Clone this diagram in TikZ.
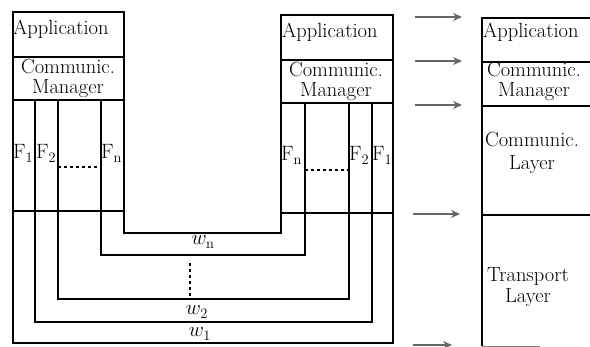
\documentclass[tikz,border=0pt]{standalone}
\usetikzlibrary{arrows.meta}
\begin{document}
\begin{tikzpicture}[x=1pt,y=-1pt,
  thickline/.style={line width=1.8pt},
  thinline/.style={line width=1.1pt},
  lbl/.style={font=\fontsize{20.5}{20}\selectfont, inner sep=0pt, align=center},
  flow/.style={line width=1.3pt, black!60, -{Stealth[length=9pt,width=8pt]}},
]
\useasboundingbox (0,0) rectangle (590,347);

% outer outline of both stacks and the channel
\draw[thickline] (124,12) -- (13,12) -- (13,343) -- (393,343) -- (393,15)
  -- (281,15) -- (281,233) -- (124,233) -- cycle;

% layer separators
\draw[thickline] (13,57) -- (124,57) (13,100) -- (124,100);
\draw[thickline] (281,60) -- (393,60) (281,103) -- (393,103);
\draw[thinline] (13,211) -- (124,211) (281,213) -- (393,213);

% channel U-lines
\draw[thinline] (101,100) -- (101,255) -- (305,255) -- (305,103);
\draw[thinline] (58,100) -- (58,299) -- (349,299) -- (349,103);
\draw[thinline] (35,100) -- (35,322) -- (372,322) -- (372,103);

% dashed
\draw[thinline, dashed] (58,167) -- (101,167);
\draw[thinline, dashed] (305,170) -- (349,170);
\draw[thinline, dashed] (190,263) -- (190,297);

% right column
\draw[thickline] (590,18) -- (482,18) -- (482,346);
\draw[thickline] (482,62) -- (590,62) (482,106) -- (590,106) (482,215) -- (590,215);
\draw[line width=0.8pt, black!50] (482,346) -- (540,346);

% arrows
\coordinate (a1s) at (415,17);  \coordinate (a1e) at (462,17);
\coordinate (a2s) at (415,61);  \coordinate (a2e) at (462,61);
\coordinate (a3s) at (415,105); \coordinate (a3e) at (462,105);
\coordinate (a4s) at (413,214); \coordinate (a4e) at (460,214);
\coordinate (a5s) at (413,345); \coordinate (a5e) at (452,345);
\draw[flow] (a1s) -- (a1e);
\draw[flow] (a2s) -- (a2e);
\draw[flow] (a3s) -- (a3e);
\draw[flow] (a4s) -- (a4e);
\draw[flow] (a5s) -- (a5e);

% left stack text
\node[lbl, anchor=base west] (appL) at (13,35) {Application};
\node[lbl, anchor=base] (cmL) at (68,94) {Communic.\\Manager};
\node[lbl, anchor=base west] (f1L) at (13,159) {$\mathrm{F}_1$};
\node[lbl, anchor=base west] (f2L) at (36,159) {$\mathrm{F}_2$};
\node[lbl, anchor=base west] (fnL) at (101,159) {$\mathrm{F}_{\mathrm{n}}$};

% right stack text
\node[lbl, anchor=base west] (appR) at (282,38) {Application};
\node[lbl, anchor=base] (cmR) at (336,97) {Communic.\\Manager};
\node[lbl, anchor=base west] (fnR) at (281,161) {$\mathrm{F}_{\mathrm{n}}$};
\node[lbl, anchor=base west] (f2R) at (349,161) {$\mathrm{F}_2$};
\node[lbl, anchor=base west] (f1R) at (372,161) {$\mathrm{F}_1$};

% channel labels
\node[lbl, anchor=base] (wn) at (203,245) {$w_{\mathrm{n}}$};
\node[lbl, anchor=base] (w2) at (197,315) {$w_2$};
\node[lbl, anchor=base] (w1) at (200,337) {$w_1$};

% right column text
\node[lbl, anchor=base west] (appC) at (483,38) {Application};
\node[lbl, anchor=base] (cmC) at (534,97) {Communic.\\Manager};
\node[lbl, anchor=base] (clC) at (532,170) {Communic.\\[3pt]Layer};
\node[lbl, anchor=base] (tlC) at (528,303) {Transport\\[1pt]Layer};
\end{tikzpicture}
\end{document}
